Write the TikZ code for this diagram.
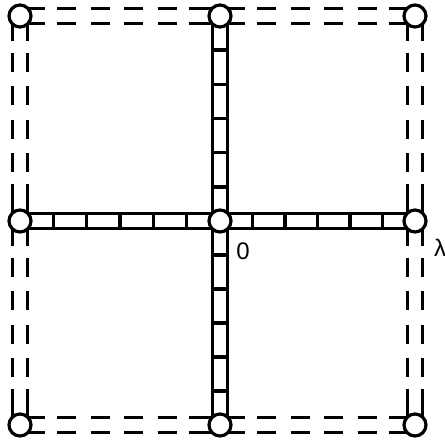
\documentclass[tikz,border=0pt]{standalone}
\usepackage{fontspec}
\newfontfamily\labfont{Liberation Sans}
\usetikzlibrary{calc,backgrounds}

\begin{document}
\begin{tikzpicture}[x=1pt,y=1pt,
  site/.style={draw, circle, line width=3.2pt, fill=white, minimum size=22pt, inner sep=0pt},
  bond/.style={line width=3.5pt,
    dash pattern=on 25pt off 12pt on 19pt off 14.5pt on 19pt off 14.5pt on 19pt off 14.5pt on 19pt off 12pt on 30pt},
  up/.style={transform canvas={yshift=#1}},
  side/.style={transform canvas={xshift=#1}},
  rail/.style={line width=3.5pt},
  rung/.style={line width=3.5pt},
  lab/.style={font=\labfont\fontsize{24}{27}\selectfont, inner sep=0pt}
]
\useasboundingbox (0,0) rectangle (445,441);

% lattice sites
\node[site] (tl) at (20,425) {};
\node[site] (tc) at (220,425) {};
\node[site] (tr) at (415,425) {};
\node[site] (ml) at (20,220) {};
\node[site] (o) at (220,220) {};
\node[site] (mr) at (415,220) {};
\node[site] (bl) at (20,16) {};
\node[site] (bc) at (220,16) {};
\node[site] (br) at (415,16) {};

\node[lab] (zero) at (243,190) {0};
\node[lab] (lam) at (440,193) {λ};

\begin{scope}[on background layer]
% outer double dashed bonds
\foreach \s in {-7.5pt,7.5pt} {
  \draw[bond, up=\s] (tl.center) -- (tc.center);
  \draw[bond, up=\s] (tc.center) -- (tr.center);
  \draw[bond, up=\s] (bl.center) -- (bc.center);
  \draw[bond, up=\s] (bc.center) -- (br.center);
  \draw[bond, side=\s] (tl.center) -- (ml.center);
  \draw[bond, side=\s] (ml.center) -- (bl.center);
  \draw[bond, side=\s] (tr.center) -- (mr.center);
  \draw[bond, side=\s] (mr.center) -- (br.center);
  % inner ladder rails
  \draw[rail, up=\s] (ml.center) -- (mr.center);
  \draw[rail, side=\s] (tc.center) -- (bc.center);
}
% ladder rungs
\foreach \a in {ml,mr}
  \foreach \k in {1,...,5}
    \draw[rung] ($(o.center)!\k/6!(\a.center)$) ++(0,-7.5) -- ++(0,15);
\foreach \a in {tc,bc}
  \foreach \k in {1,...,5}
    \draw[rung] ($(o.center)!\k/6!(\a.center)$) ++(-7.5,0) -- ++(15,0);
\end{scope}
\end{tikzpicture}
\end{document}
